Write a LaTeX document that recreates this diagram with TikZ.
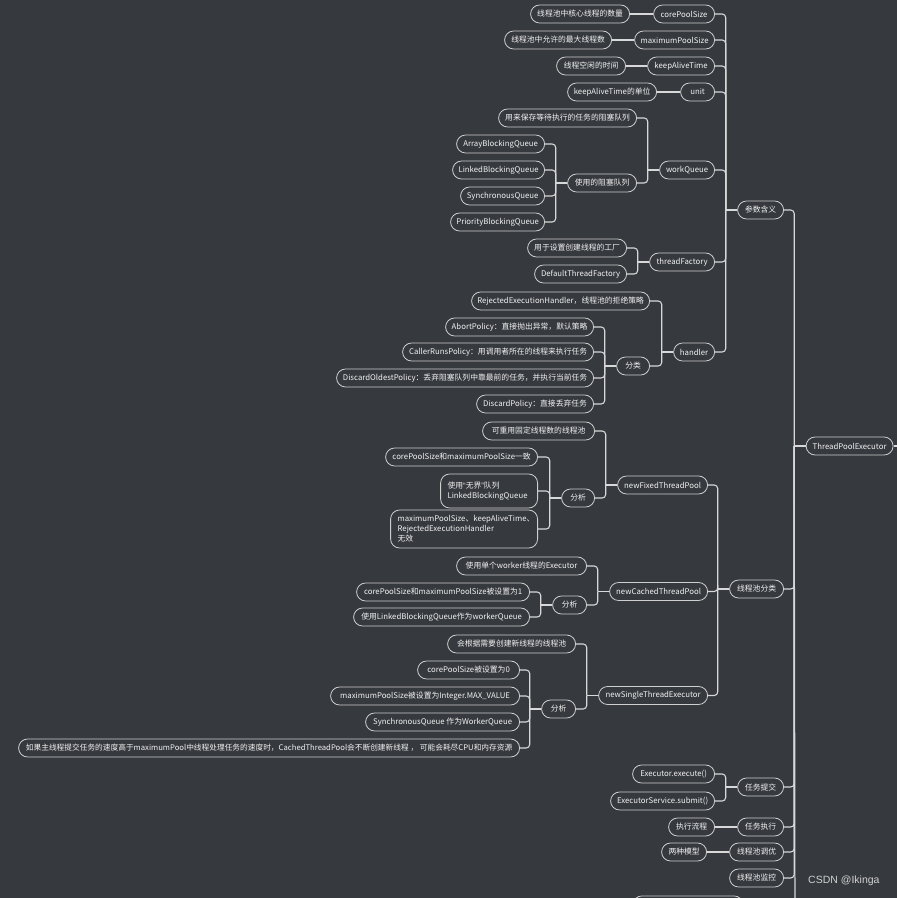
\documentclass[tikz,border=0pt]{standalone}
\usepackage{fontspec}
\setmainfont{Noto Sans CJK SC}
\newfontfamily\wmfont{Liberation Sans}
\definecolor{bgc}{HTML}{36393E}
\definecolor{linec}{HTML}{D8D8D8}
\definecolor{boxc}{HTML}{CFCFCF}
\definecolor{txtc}{HTML}{F2F2F2}
\definecolor{wmc}{HTML}{D0D0D0}
\newcommand\mmstub[1]{\draw[conn] (#1.west) -- ++(-11.5,0) coordinate (#1-b);}
\newcommand\mmlink[2]{\draw[conn] (#1-b) |- (#2.east);}
\newcommand\mmleaf[2]{\draw[conn] (#1.west) -- (#2.east);}
\begin{document}
\begin{tikzpicture}[x=1pt,y=-1pt,
 pill/.style={draw=boxc, line width=0.8pt, rounded corners=9pt, minimum height=18pt,
   inner xsep=0pt, inner ysep=0pt, text=txtc, font=\fontsize{7.8}{10}\selectfont, anchor=east},
 multi/.style={pill, align=left, inner xsep=7pt},
 conn/.style={draw=linec, line width=1.1pt, rounded corners=3.5pt},
]
\fill[bgc] (0,0) rectangle (897,898);
\useasboundingbox (0,0) rectangle (897,898);

% root
\node[pill, minimum width=87pt] (root) at (893.5,446) {ThreadPoolExecutor};
\coordinate (rootout) at (905,446);
\draw[conn] (root.east) -- (rootout);

% level 1
\node[pill, minimum width=46pt] (p1) at (784,210) {参数含义};
\node[pill, minimum width=54pt] (p2) at (784,589) {线程池分类};
\node[pill, minimum width=46pt] (p3) at (784,787) {任务提交};
\node[pill, minimum width=46pt] (p4) at (784,827) {任务执行};
\node[pill, minimum width=54pt] (p5) at (784,852) {线程池调优};
\node[pill, minimum width=54pt] (p6) at (784,878) {线程池监控};
\node[pill, minimum width=110pt, anchor=north] (p7) at (688,895.5) {};

% 参数含义
\node[pill, minimum width=61pt] (a1) at (715,14) {corePoolSize};
\node[pill, minimum width=80pt] (a2) at (715,40) {maximumPoolSize};
\node[pill, minimum width=67pt] (a3) at (715,66) {keepAliveTime};
\node[pill, minimum width=34pt] (a4) at (715,92) {unit};
\node[pill, minimum width=55pt] (a5) at (715,170) {workQueue};
\node[pill, minimum width=65pt] (a6) at (715,262) {threadFactory};
\node[pill, minimum width=41pt] (a7) at (715,352) {handler};

\node[pill, minimum width=99pt] (a1l) at (630,14) {线程池中核心线程的数量};
\node[pill, minimum width=107pt] (a2l) at (612,40) {线程池中允许的最大线程数};
\node[pill, minimum width=69pt] (a3l) at (626,66) {线程空闲的时间};
\node[pill, minimum width=89pt] (a4l) at (657,92) {keepAliveTime的单位};

\node[pill, minimum width=138pt] (a5a) at (637,118) {用来保存等待执行的任务的阻塞队列};
\node[pill, minimum width=69pt] (a5b) at (637,183) {使用的阻塞队列};
\node[pill, minimum width=88pt] (a5b1) at (545,144) {ArrayBlockingQueue};
\node[pill, minimum width=92pt] (a5b2) at (545,170) {LinkedBlockingQueue};
\node[pill, minimum width=84pt] (a5b3) at (545,196) {SynchronousQueue};
\node[pill, minimum width=94pt] (a5b4) at (545,222) {PriorityBlockingQueue};

\node[pill, minimum width=99pt] (a6a) at (627,248) {用于设置创建线程的工厂};
\node[pill, minimum width=92pt] (a6b) at (627,274) {DefaultThreadFactory};

\node[pill, minimum width=178pt] (a7a) at (650,301) {RejectedExecutionHandler，线程池的拒绝策略};
\node[pill, minimum width=33pt] (a7b) at (650,366) {分类};
\node[pill, minimum width=148pt] (a7b1) at (594,327) {AbortPolicy：直接抛出异常，默认策略};
\node[pill, minimum width=191pt] (a7b2) at (594,352) {CallerRunsPolicy：用调用者所在的线程来执行任务};
\node[pill, minimum width=257pt] (a7b3) at (594,378) {DiscardOldestPolicy：丢弃阻塞队列中靠最前的任务，并执行当前任务};
\node[pill, minimum width=117pt] (a7b4) at (594,404) {DiscardPolicy：直接丢弃任务};

% 线程池分类
\node[pill, minimum width=90pt] (b1) at (708,485) {newFixedThreadPool};
\node[pill, minimum width=98pt] (b2) at (708,591.5) {newCachedThreadPool};
\node[pill, minimum width=109pt] (b3) at (708,695.5) {newSingleThreadExecutor};

\node[pill, minimum width=112pt] (b1a) at (595,431) {可重用固定线程数的线程池};
\node[pill, minimum width=33pt] (b1b) at (595,498) {分析};
\node[pill, minimum width=152pt] (b1b1) at (538,457) {corePoolSize和maximumPoolSize一致};
\node[multi, text width=83pt, minimum height=34pt] (b1b2) at (538,491) {使用{\wmfont “}无界{\wmfont ”}队列\\LinkedBlockingQueue};
\node[multi, text width=133pt, minimum height=38pt] (b1b3) at (538,529) {maximumPoolSize、keepAliveTime、\\RejectedExecutionHandler\\无效};

\node[pill, minimum width=130pt] (b2a) at (587,566) {使用单个worker线程的Executor};
\node[pill, minimum width=34pt] (b2b) at (587,605) {分析};
\node[pill, minimum width=173pt] (b2b1) at (530,592) {corePoolSize和maximumPoolSize被设置为1};
\node[pill, minimum width=176pt] (b2b2) at (530,617) {使用LinkedBlockingQueue作为workerQueue};

\node[pill, minimum width=128pt] (b3a) at (576,644) {会根据需要创建新线程的线程池};
\node[pill, minimum width=34pt] (b3b) at (576,709) {分析};
\node[pill, minimum width=102pt] (b3b1) at (520,670) {corePoolSize被设置为0};
\node[pill, minimum width=189pt] (b3b2) at (520,696) {maximumPoolSize被设置为Integer.MAX\_VALUE};
\node[pill, minimum width=154pt] (b3b3) at (520,722) {SynchronousQueue 作为WorkerQueue};
\node[pill, minimum width=501pt, font=\fontsize{7.7}{10}\selectfont] (b3b4) at (520,748) {如果主线程提交任务的速度高于maximumPool中线程处理任务的速度时，CachedThreadPool会不断创建新线程 ， 可能会耗尽CPU和内存资源};

% 任务提交 etc.
\node[pill, minimum width=82pt] (c1) at (715,774) {Executor.execute()};
\node[pill, minimum width=104pt] (c2) at (715,801) {ExecutorService.submit()};
\node[pill, minimum width=46pt] (d1) at (715,827) {执行流程};
\node[pill, minimum width=45pt] (e1) at (707,852) {两种模型};

% connectors
\mmstub{root}
\foreach \c in {p1,p2,p3,p4,p5,p6} {\mmlink{root}{\c}}
\coordinate (rootend) at (795,910);
\draw[conn] (root-b) -- (rootend);

\mmstub{p1}
\foreach \c in {a1,a2,a3,a4,a5,a6,a7} {\mmlink{p1}{\c}}
\mmleaf{a1}{a1l}
\mmleaf{a2}{a2l}
\mmleaf{a3}{a3l}
\mmleaf{a4}{a4l}
\mmstub{a5}
\mmlink{a5}{a5a}
\mmlink{a5}{a5b}
\mmstub{a5b}
\foreach \c in {a5b1,a5b2,a5b3,a5b4} {\mmlink{a5b}{\c}}
\mmstub{a6}
\mmlink{a6}{a6a}
\mmlink{a6}{a6b}
\mmstub{a7}
\mmlink{a7}{a7a}
\mmlink{a7}{a7b}
\mmstub{a7b}
\foreach \c in {a7b1,a7b2,a7b3,a7b4} {\mmlink{a7b}{\c}}

\mmstub{p2}
\foreach \c in {b1,b2,b3} {\mmlink{p2}{\c}}
\mmstub{b1}
\mmlink{b1}{b1a}
\mmlink{b1}{b1b}
\mmstub{b1b}
\foreach \c in {b1b1,b1b2,b1b3} {\mmlink{b1b}{\c}}
\mmstub{b2}
\mmlink{b2}{b2a}
\mmlink{b2}{b2b}
\mmstub{b2b}
\foreach \c in {b2b1,b2b2} {\mmlink{b2b}{\c}}
\mmstub{b3}
\mmlink{b3}{b3a}
\mmlink{b3}{b3b}
\mmstub{b3b}
\foreach \c in {b3b1,b3b2,b3b3,b3b4} {\mmlink{b3b}{\c}}

\mmstub{p3}
\mmlink{p3}{c1}
\mmlink{p3}{c2}
\mmleaf{p4}{d1}
\mmleaf{p5}{e1}

% watermark
\node[font=\wmfont\fontsize{10.5}{12}\selectfont, text=wmc, anchor=west, inner sep=0pt] (wm) at (808,881) {CSDN @Ikinga};
\end{tikzpicture}
\end{document}
